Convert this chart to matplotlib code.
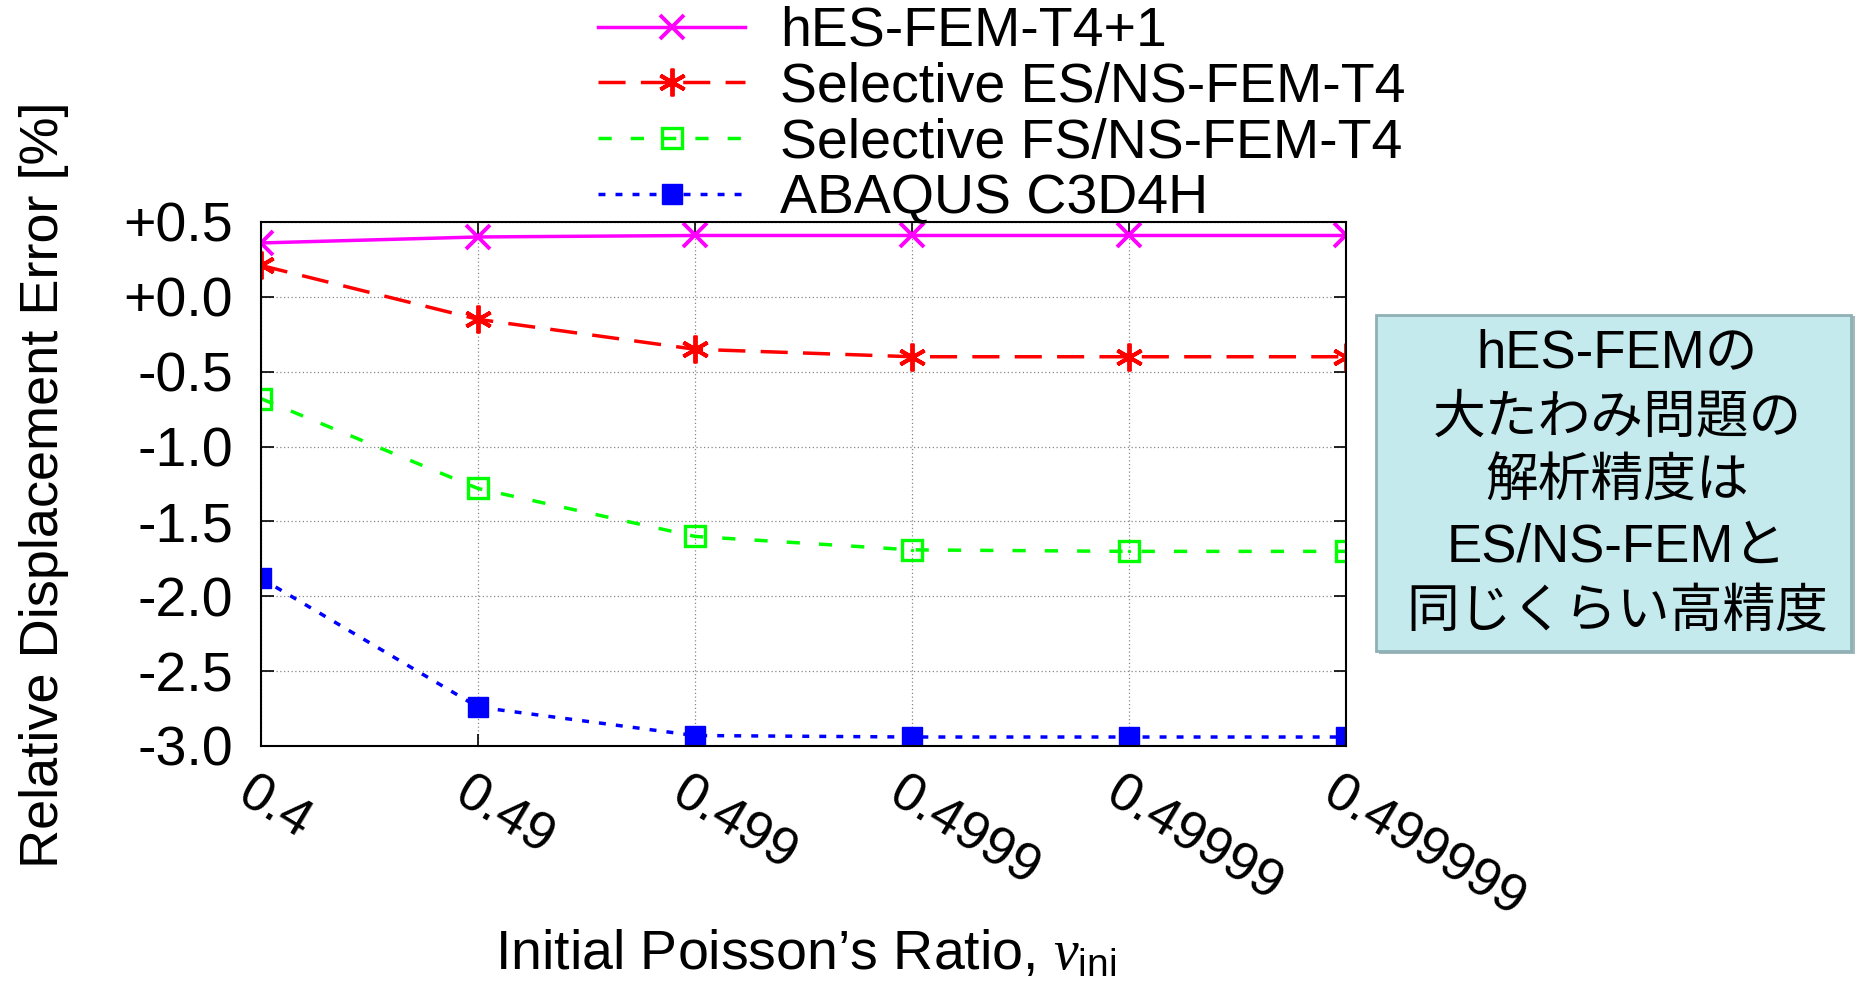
import matplotlib
matplotlib.use("Agg")
import matplotlib.pyplot as plt
from matplotlib.patches import FancyBboxPatch

plt.rcParams['font.family'] = ['Liberation Sans', 'DejaVu Sans']
plt.rcParams['mathtext.fontset'] = 'custom'
plt.rcParams['mathtext.rm'] = 'Liberation Sans'
plt.rcParams['mathtext.it'] = 'Liberation Serif:italic'

# Datos
poisson = ["0.4", "0.49", "0.499", "0.4999", "0.49999", "0.499999"]
hes_fem = [0.36, 0.40, 0.41, 0.41, 0.41, 0.41]
es_ns_fem = [0.21, -0.15, -0.35, -0.40, -0.40, -0.40]
fs_ns_fem = [-0.68, -1.28, -1.60, -1.69, -1.70, -1.70]
abaqus = [-1.88, -2.74, -2.93, -2.94, -2.94, -2.94]

nombres = ["hES-FEM-T4+1", "Selective ES/NS-FEM-T4", "Selective FS/NS-FEM-T4", "ABAQUS C3D4H"]
yticks = [0.5, 0.0, -0.5, -1.0, -1.5, -2.0, -2.5, -3.0]
ytick_labels = ["+0.5", "+0.0", "-0.5", "-1.0", "-1.5", "-2.0", "-2.5", "-3.0"]
nota = "hES-FEMの\n大たわみ問題の\n解析精度は\nES/NS-FEMと\n同じくらい高精度"

W, H = 1855, 990
fig = plt.figure(figsize=(W / 100, H / 100), dpi=100)
ax = fig.add_axes([261 / W, 1 - 746 / H, (1346 - 261) / W, (746 - 222) / H])

x = list(range(len(poisson)))
lw = 2.5
ax.plot(x, hes_fem, color='#ff00ff', lw=lw, marker='x', ms=17, mew=2.8, label=nombres[0])
ax.plot(x, es_ns_fem, color='#ff0000', lw=lw, dashes=(7.8, 4.4), marker=(6, 2, 0), ms=20,
        mew=2.8, label=nombres[1])
ax.plot(x, fs_ns_fem, color='#00ff00', lw=lw, dashes=(3.8, 5.5), marker='s', ms=15, mew=2.4,
        mfc='none', label=nombres[2])
ax.plot(x, fs_ns_fem, ls='none', marker='.', ms=3, color='#00ff00')
ax.plot(x, abaqus, color='#0000ff', lw=lw, dashes=(2, 2.9), marker='s', ms=15,
        label=nombres[3])

ax.set_xlim(0, len(poisson) - 1)
ax.set_ylim(-3.0, 0.5)
ax.set_xticks(x)
ax.set_xticklabels([])
ax.set_yticks(yticks)
ax.set_yticklabels(ytick_labels, fontsize=40)
ax.tick_params(direction='in', length=9, width=1.2, top=True, right=True, pad=20)
ax.grid(True, color='#888888', ls=(0, (1, 2)), lw=0.9)
for s in ax.spines.values():
    s.set_linewidth(1.5)

# etiquetas del eje x giradas
for xi, lab in zip(x, poisson):
    ax.annotate(lab, xy=(xi, -3.0), xycoords='data', xytext=(-4, -16),
                textcoords='offset points', rotation=-31, rotation_mode='anchor',
                ha='left', va='top', fontsize=39, annotation_clip=False)

fig.text(44 / W, 1 - 485 / H, "Relative Displacement Error [%]", rotation=90,
         ha='center', va='center', fontsize=39)
fig.text(806 / W, 1 - 955 / H, r"Initial Poisson’s Ratio, $\mathit{\nu}_{\rm ini}$",
         ha='center', va='center', fontsize=40)

leg = ax.legend(loc='upper left', bbox_to_anchor=(598 / W, 1 - 6 / H),
                bbox_transform=fig.transFigure, frameon=False, fontsize=40,
                handlelength=2.65, handletextpad=0.62, labelspacing=0.07,
                borderpad=0, borderaxespad=0)

# cuadro de texto con una sombra ligera
sombra = FancyBboxPatch((1379 / W, 1 - 654 / H), 477 / W, 338 / H,
                        boxstyle='square,pad=0', transform=fig.transFigure,
                        facecolor='#9fb9bd', edgecolor='none')
fig.patches.append(sombra)
caja = FancyBboxPatch((1376 / W, 1 - 651 / H), 475 / W, 336 / H,
                      boxstyle='square,pad=0', transform=fig.transFigure,
                      facecolor='#c4eaee', edgecolor='#8fb0b4', lw=2)
fig.patches.append(caja)
fig.text(1617 / W, 1 - 483 / H, nota, ha='center', va='center', fontsize=38,
         linespacing=1.38, family=['Liberation Sans', 'Noto Sans CJK JP'])

fig.savefig("out.png", dpi=100)
